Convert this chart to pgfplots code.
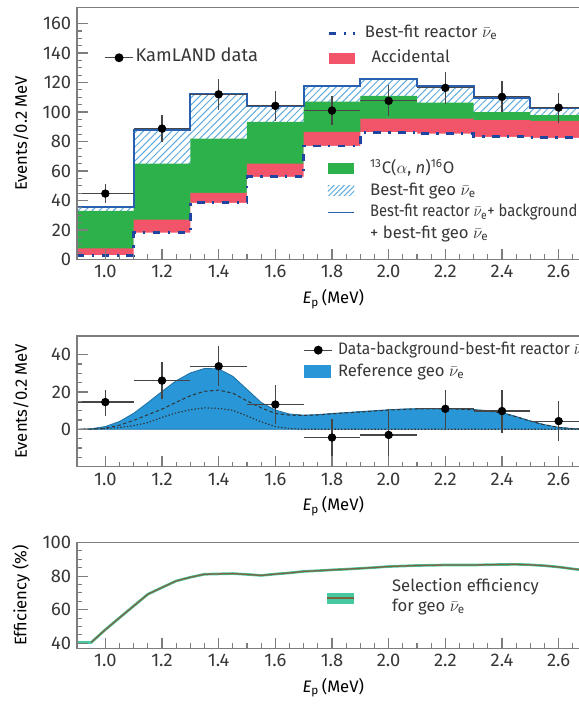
\documentclass[border=0pt]{standalone}
\usepackage{fontspec}
\setmainfont{Fira Sans}
\usepackage{pgfplots}
\pgfplotsset{compat=1.18}
\usepackage{pgfplotstable}
\usetikzlibrary{patterns.meta}

\definecolor{reacblue}{RGB}{30,70,160}
\definecolor{accred}{RGB}{242,85,105}
\definecolor{cgreen}{RGB}{45,178,75}
\definecolor{hatchblue}{RGB}{95,170,220}
\definecolor{totblue}{RGB}{40,95,175}
\definecolor{geoblue}{RGB}{40,150,215}
\definecolor{effteal}{RGB}{70,200,160}
\definecolor{effbrown}{RGB}{125,100,65}
\definecolor{axgray}{RGB}{125,125,125}
\definecolor{txtgray}{RGB}{55,55,55}
\definecolor{errgray}{RGB}{70,70,70}

% histogram (cumulative tops), bins start at x
\pgfplotstableread{
x    reactor acctop c13top total
0.9  2.9     7.5    33.0   35.3
1.1  18.3    27.0   65.0   88.0
1.3  38.4    45.2   82.0   111.9
1.5  56.0    65.0   93.3   104.0
1.7  77.0    86.6   107.0  117.5
1.9  86.3    95.6   111.0  122.3
2.1  85.4    95.6   106.4  117.5
2.3  83.2    94.5   100.0  109.8
2.5  82.5    94.0   97.9   102.4
2.7  82.5    94.0   97.9   102.4
}\histo

\pgfplotstableread{
x   y     ex  ey
1.0 44.7  0.1 6.6
1.2 88.8  0.1 9.4
1.4 112.0 0.1 10.6
1.6 104.2 0.1 10.2
1.8 101.0 0.1 10.0
2.0 107.6 0.1 10.4
2.2 116.4 0.1 10.8
2.4 110.3 0.1 10.5
2.6 103.0 0.1 10.1
}\topdata

\pgfplotstableread{
x   y    ex  eyp  eym
1.0 14.6 0.1 6.7  7.5
1.2 26.1 0.1 10.0 10.0
1.4 33.8 0.1 11.0 10.7
1.6 13.3 0.1 10.7 10.6
1.8 -4.4 0.1 10.1 15.2
2.0 -3.0 0.1 13.7 11.2
2.2 11.0 0.1 10.3 11.0
2.4 9.8  0.1 11.5 11.6
2.6 4.4  0.1 10.7 10.6
}\middata

\pgfplotstableread{
x    tot  u    th
0.90 0    0    0
0.95 0.3  0.1  0.1
1.00 1.5  0.6  0.4
1.05 4.2  2.2  1.0
1.10 8.6  4.8  2.0
1.15 14.3 7.8  3.6
1.20 20.3 10.8 6.4
1.25 26.0 14.5 8.8
1.30 30.2 18.0 10.5
1.35 32.6 20.4 11.5
1.40 32.4 21.0 11.2
1.45 28.4 19.4 10.2
1.50 21.4 15.2 7.2
1.55 14.4 11.5 4.0
1.60 10.3 8.5  1.5
1.65 8.2  7.6  0.4
1.70 7.6  7.4  0.0
1.75 7.9  7.7  0
1.80 8.5  8.3  0
1.85 9.0  8.8  0
1.90 9.5  9.3  0
1.95 10.0 9.8  0
2.00 10.5 10.3 0
2.05 10.9 10.7 0
2.10 11.1 10.9 0
2.15 11.2 11.0 0
2.20 11.2 11.0 0
2.25 11.0 10.8 0
2.30 10.6 10.4 0
2.35 10.0 9.8  0
2.40 9.0  8.8  0
2.45 6.9  6.7  0
2.50 4.5  4.4  0
2.55 2.5  2.4  0
2.60 1.1  1.0  0
2.65 0.4  0.3  0
2.70 0.1  0.1  0
2.75 0    0    0
2.80 0    0    0
}\geo

\pgfplotstableread{
x    eff
0.90 40.5
0.95 40.5
1.00 48.1
1.05 55.2
1.10 62.2
1.15 69.2
1.20 73.2
1.25 77.1
1.30 79.3
1.35 81.1
1.40 81.3
1.45 81.5
1.50 81.0
1.55 80.4
1.60 81.2
1.65 81.9
1.70 82.8
1.75 83.2
1.80 83.7
1.85 84.1
1.90 84.6
1.95 85.1
2.00 85.7
2.10 86.3
2.20 86.6
2.30 86.6
2.40 86.9
2.45 87.0
2.50 86.7
2.55 86.2
2.60 85.4
2.65 84.3
2.70 83.3
2.80 81.0
}\eff

\pgfplotstableread{
x    eff
0.95 40.5
1.00 48.1
1.05 55.2
1.10 62.2
1.15 69.2
1.20 73.2
1.25 77.1
1.30 79.3
1.35 81.1
1.40 81.3
1.45 81.5
1.50 81.0
1.55 80.4
1.60 81.2
1.65 81.9
1.70 82.8
1.75 83.2
1.80 83.7
1.85 84.1
1.90 84.6
1.95 85.1
2.00 85.7
2.10 86.3
2.20 86.6
2.30 86.6
2.40 86.9
2.45 87.0
2.50 86.7
2.55 86.2
2.60 85.4
2.65 84.3
2.70 83.3
2.80 81.0
}\effb

\newcommand{\nue}{$\bar{\nu}_{\mathrm{e}}$}
\newcommand{\fs}{\fontsize{10}{12}\selectfont}
\newcommand{\fl}{\fontsize{11}{13}\selectfont}

\pgfplotsset{
  panel/.style={
    scale only axis, width=323pt, xmin=0.9, xmax=2.8,
    anchor=south west, axis on top,
    xtick={1,1.2,1.4,1.6,1.8,2,2.2,2.4,2.6,2.8},
    minor x tick num=3, minor y tick num=3,
    tick pos=left, tick align=inside,
    major tick length=6.5pt, minor tick length=3pt,
    axis line style={axgray, line width=0.9pt},
    tick style={axgray, line width=0.7pt},
    tick label style={text=txtgray, font=\fl},
    label style={text=txtgray, font=\fl},
    x tick label style={/pgf/number format/.cd, fixed, fixed zerofill, precision=1, assume math mode=true},
    y tick label style={/pgf/number format/assume math mode=true},
    xlabel={{\itshape E}\textsubscript{p}\,(MeV)},
    every axis x label/.style={at={(ticklabel cs:0.476)}, anchor=near ticklabel},
    every axis y label/.style={at={(axis description cs:-0.104,0.5)}, rotate=90, anchor=center},
  },
  legaxis/.style={
    scale only axis, width=323pt, anchor=south west, hide axis,
    xmin=0, xmax=1, ymin=0, ymax=1,
    legend cell align=left,
    legend style={draw=none, fill=none, font=\fs, text=txtgray, inner sep=0pt, row sep=0pt,
      nodes={inner sep=1pt, text height=8pt, text depth=3pt}},
  },
  boxleg/.style={legend image code/.code={\fill[#1, draw=none] (0pt,-3pt) rectangle (16pt,3.5pt);}},
}

\begin{document}
\begin{tikzpicture}
\path[use as bounding box] (0,0) rectangle (347.4pt,423.6pt);
\clip (0,0) rectangle (347.4pt,423.6pt);

% ---------------- top panel
\begin{axis}[panel, at={(46.2pt,267.9pt)}, height=151.3pt, ymin=0, ymax=171,
  ytick={0,20,...,160}, ylabel={Events/0.2 MeV}]
\addplot[const plot, draw=none, pattern={Lines[angle=45,distance=3pt,line width=0.6pt]}, pattern color=hatchblue]
  table[x=x,y=total]{\histo} \closedcycle;
\addplot[const plot, draw=none, fill=cgreen] table[x=x,y=c13top]{\histo} \closedcycle;
\addplot[const plot, draw=none, fill=accred] table[x=x,y=acctop]{\histo} \closedcycle;
\addplot[const plot, draw=none, fill=white] table[x=x,y=reactor]{\histo} \closedcycle;
\addplot[const plot, reacblue, line width=1.7pt, dash pattern=on 4.5pt off 4.5pt on 1.3pt off 4.5pt]
  table[x=x,y=reactor]{\histo};
\addplot[const plot, totblue, line width=1.2pt] table[x=x,y=total]{\histo};
\addplot[only marks, mark=*, mark size=2.3pt, black,
  error bars/.cd, x dir=both, x explicit, y dir=both, y explicit, error mark=none,
  error bar style={errgray, line width=0.7pt}]
  table[x=x,y=y,x error=ex,y error=ey]{\topdata};
\end{axis}

\begin{axis}[legaxis, at={(46.2pt,267.9pt)}, height=151.3pt,
  legend style={at={(0.05,0.80)}, anchor=west, font=\fl}]
\addlegendimage{errgray, line width=0.7pt, mark=*, mark options={black, solid, mark size=2.3pt}}
\addlegendentry{KamLAND data}
\end{axis}

\begin{axis}[legaxis, at={(46.2pt,267.9pt)}, height=151.3pt,
  legend style={at={(0.464,0.942)}, anchor=north west, row sep=2.4pt,
    /tikz/every odd column/.append style={column sep=4pt}}]
\addlegendimage{legend image code/.code={\draw[reacblue, line width=1.7pt, dash pattern=on 4.5pt off 4.5pt on 1.3pt off 4.5pt] (0pt,0pt) -- (16pt,0pt);}}
\addlegendentry{Best-fit reactor \nue}
\addlegendimage{boxleg=accred}
\addlegendentry{\hspace{4pt}Accidental}
\end{axis}

\begin{axis}[legaxis, at={(46.2pt,267.9pt)}, height=151.3pt,
  legend style={at={(0.464,0.402)}, anchor=north west,
    /tikz/every odd column/.append style={column sep=8pt}}]
\addlegendimage{boxleg=cgreen}
\addlegendentry{\textsuperscript{13}C($\alpha$, \textit{n})\textsuperscript{16}O}
\addlegendimage{legend image code/.code={\fill[draw=none, pattern={Lines[angle=45,distance=2.2pt,line width=0.6pt]}, pattern color=hatchblue] (0pt,-3pt) rectangle (16pt,3.5pt);}}
\addlegendentry{Best-fit geo \nue}
\addlegendimage{legend image code/.code={\draw[totblue, line width=0.8pt] (0pt,0pt) -- (16pt,0pt);}}
\addlegendentry{\scalebox{0.885}[1]{Best-fit reactor \nue+ background}}
\addlegendimage{empty legend}
\addlegendentry{+ best-fit geo \nue}
\end{axis}

% ---------------- middle panel
\begin{axis}[panel, at={(46.2pt,143.6pt)}, height=78.4pt, ymin=-20, ymax=50,
  ytick={-20,0,20,40}, yticklabels={,0,20,40}, ylabel={Events/0.2 MeV}]
\addplot[fill=geoblue, draw=geoblue!75!black, line width=0.5pt] table[x=x,y=tot]{\geo} -- cycle;
\addplot[black!80, line width=0.6pt, dash pattern=on 2pt off 1.5pt] table[x=x,y=u]{\geo};
\addplot[black!80, line width=0.7pt, dash pattern=on 0.8pt off 1.2pt] table[x=x,y=th]{\geo};
\addplot[only marks, mark=*, mark size=2.3pt, black,
  error bars/.cd, x dir=both, x explicit, y dir=both, y explicit, error mark=none,
  error bar style={errgray, line width=0.7pt}]
  table[x=x,y=y,x error=ex,y error plus=eyp,y error minus=eym]{\middata};
\end{axis}

\begin{axis}[legaxis, at={(46.2pt,143.6pt)}, height=78.4pt,
  legend style={at={(0.42,0.977)}, anchor=north west,
    /tikz/every odd column/.append style={column sep=2pt}}]
\addlegendimage{errgray, line width=0.7pt, mark=*, mark options={black, solid, mark size=2.3pt}}
\addlegendentry{\scalebox{0.93}[1]{Data-background-best-fit reactor \nue}}
\addlegendimage{legend image code/.code={\fill[geoblue, draw=none] (0pt,-3.5pt) rectangle (16pt,4pt);}}
\addlegendentry{Reference geo \nue}
\end{axis}

% ---------------- bottom panel
\begin{axis}[panel, at={(46.2pt,34.6pt)}, height=63.5pt, ymin=37, ymax=100,
  ytick={40,60,80,100}, ylabel={Efficiency (\%)}]
\addplot[effteal, line width=1.6pt] table[x=x,y=eff]{\eff};
\addplot[effbrown, line width=0.8pt] table[x=x,y=eff]{\effb};
\end{axis}

\begin{axis}[legaxis, at={(46.2pt,34.6pt)}, height=63.5pt,
  legend style={at={(0.464,0.683)}, anchor=north west, row sep=-1pt}]
\addlegendimage{legend image code/.code={\path[draw=none, fill=none] (0pt,0pt) -- (38pt,0pt);}}
\addlegendentry{Selection efficiency}
\addlegendimage{legend image code/.code={\fill[overlay, effteal, draw=none] (0pt,2.2pt) rectangle (16pt,8.8pt); \draw[overlay, effbrown, line width=0.8pt] (0pt,5.5pt) -- (16pt,5.5pt); \path[draw=none, fill=none] (0pt,0pt) -- (38pt,0pt);}}
\addlegendentry{for geo \nue}
\end{axis}
\end{tikzpicture}
\end{document}
